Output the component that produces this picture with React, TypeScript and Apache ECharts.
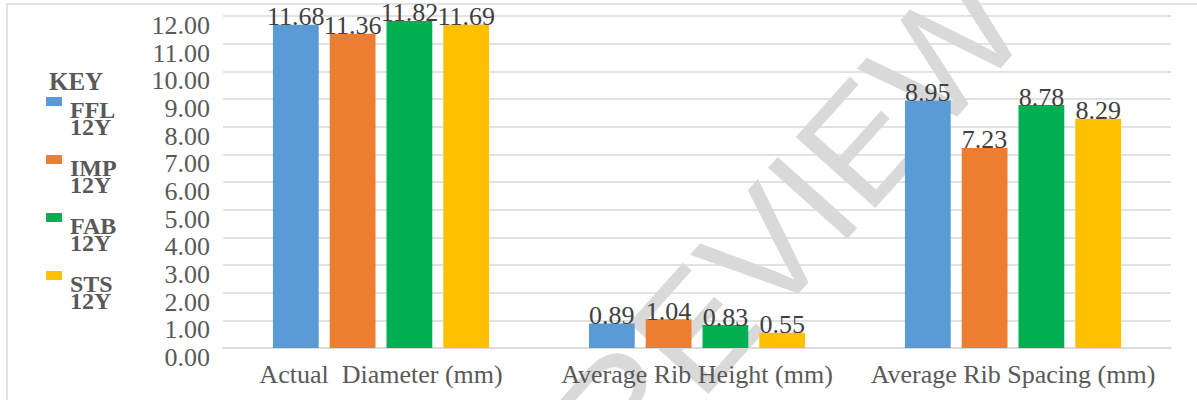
import React, { useEffect, useRef } from "react";
import * as echarts from "echarts";

const categories = ["Actual  Diameter (mm)", "Average Rib Height (mm)", "Average Rib Spacing (mm)"];
const seriesNames = ["FFL 12Y", "IMP 12Y", "FAB 12Y", "STS 12Y"];
const ffl = [11.68, 0.89, 8.95];
const imp = [11.36, 1.04, 7.23];
const fab = [11.82, 0.83, 8.78];
const sts = [11.69, 0.55, 8.29];
const seriesValues = [ffl, imp, fab, sts];
const colors = ["#5B9BD5", "#ED7D31", "#00B050", "#FFC000"];

const SERIF = "Liberation Serif";

export default function App() {
  const ref = useRef<HTMLDivElement>(null);
  useEffect(() => {
    if (!ref.current) return;
    const chart = echarts.init(ref.current, null, { renderer: "svg" });
    chart.setOption({
      animation: false,
      backgroundColor: "#ffffff",
      title: {
        text: "KEY",
        left: 44,
        top: 64,
        textStyle: { fontFamily: SERIF, fontWeight: "bold", fontSize: 25, color: "#595959" },
      },
      legend: {
        orient: "vertical",
        left: 41,
        top: 92,
        itemWidth: 19,
        itemHeight: 42,
        itemGap: 16,
        icon: "path://M0,0L16,0L16,9L0,9Z M19,42",
        data: seriesNames,
        formatter: (name: string) => name.replace(" ", "\n"),
        textStyle: {
          fontFamily: SERIF,
          fontWeight: "bold",
          fontSize: 24,
          lineHeight: 17,
          color: "#595959",
        },
      },
      graphic: [
        {
          type: "rect",
          z: -10,
          shape: { x: 7, y: 4, width: 1210, height: 420 },
          style: { fill: "none", stroke: "#d9d9d9", lineWidth: 1.5 },
        },
        {
          type: "text",
          z: -5,
          x: 755,
          y: 262,
          rotation: 0.84,
          style: {
            text: "PREVIEW",
            fontFamily: "Liberation Sans",
            fontSize: 155,
            fill: "#d9d9d9",
            textAlign: "center",
            textVerticalAlign: "middle",
          },
        },
      ],
      grid: { left: 223, right: 26, top: 16, bottom: 52, containLabel: false },
      xAxis: {
        type: "category",
        data: categories,
        axisLine: { lineStyle: { color: "#d9d9d9", width: 1.5 } },
        axisTick: { show: false },
        axisLabel: {
          fontFamily: SERIF,
          fontSize: 26,
          color: "#595959",
          margin: 13,
          interval: 0,
        },
      },
      yAxis: {
        type: "value",
        min: 0,
        max: 12,
        interval: 1,
        axisLine: { show: false },
        axisTick: { show: false },
        splitLine: { lineStyle: { color: "#d9d9d9", width: 1.5 } },
        axisLabel: {
          fontFamily: SERIF,
          fontSize: 26,
          lineHeight: 19,
          color: "#595959",
          margin: 13,
          verticalAlign: "top",
          formatter: (v: number) => v.toFixed(2),
        },
      },
      series: seriesNames.map((name, i) => ({
        name,
        type: "bar",
        data: seriesValues[i],
        barGap: "24%",
        barCategoryGap: "31.6%",
        itemStyle: { color: colors[i] },
        label: {
          show: true,
          position: "top",
          distance: -5,
          fontFamily: SERIF,
          fontSize: 26,
          color: "#404040",
          formatter: (p: any) => p.value.toFixed(2),
        },
      })),
    });
    return () => chart.dispose();
  }, []);
  return (
    <div
      ref={ref}
      style={{ position: "fixed", left: 0, top: 0, width: 1197, height: 400 }}
    />
  );
}
